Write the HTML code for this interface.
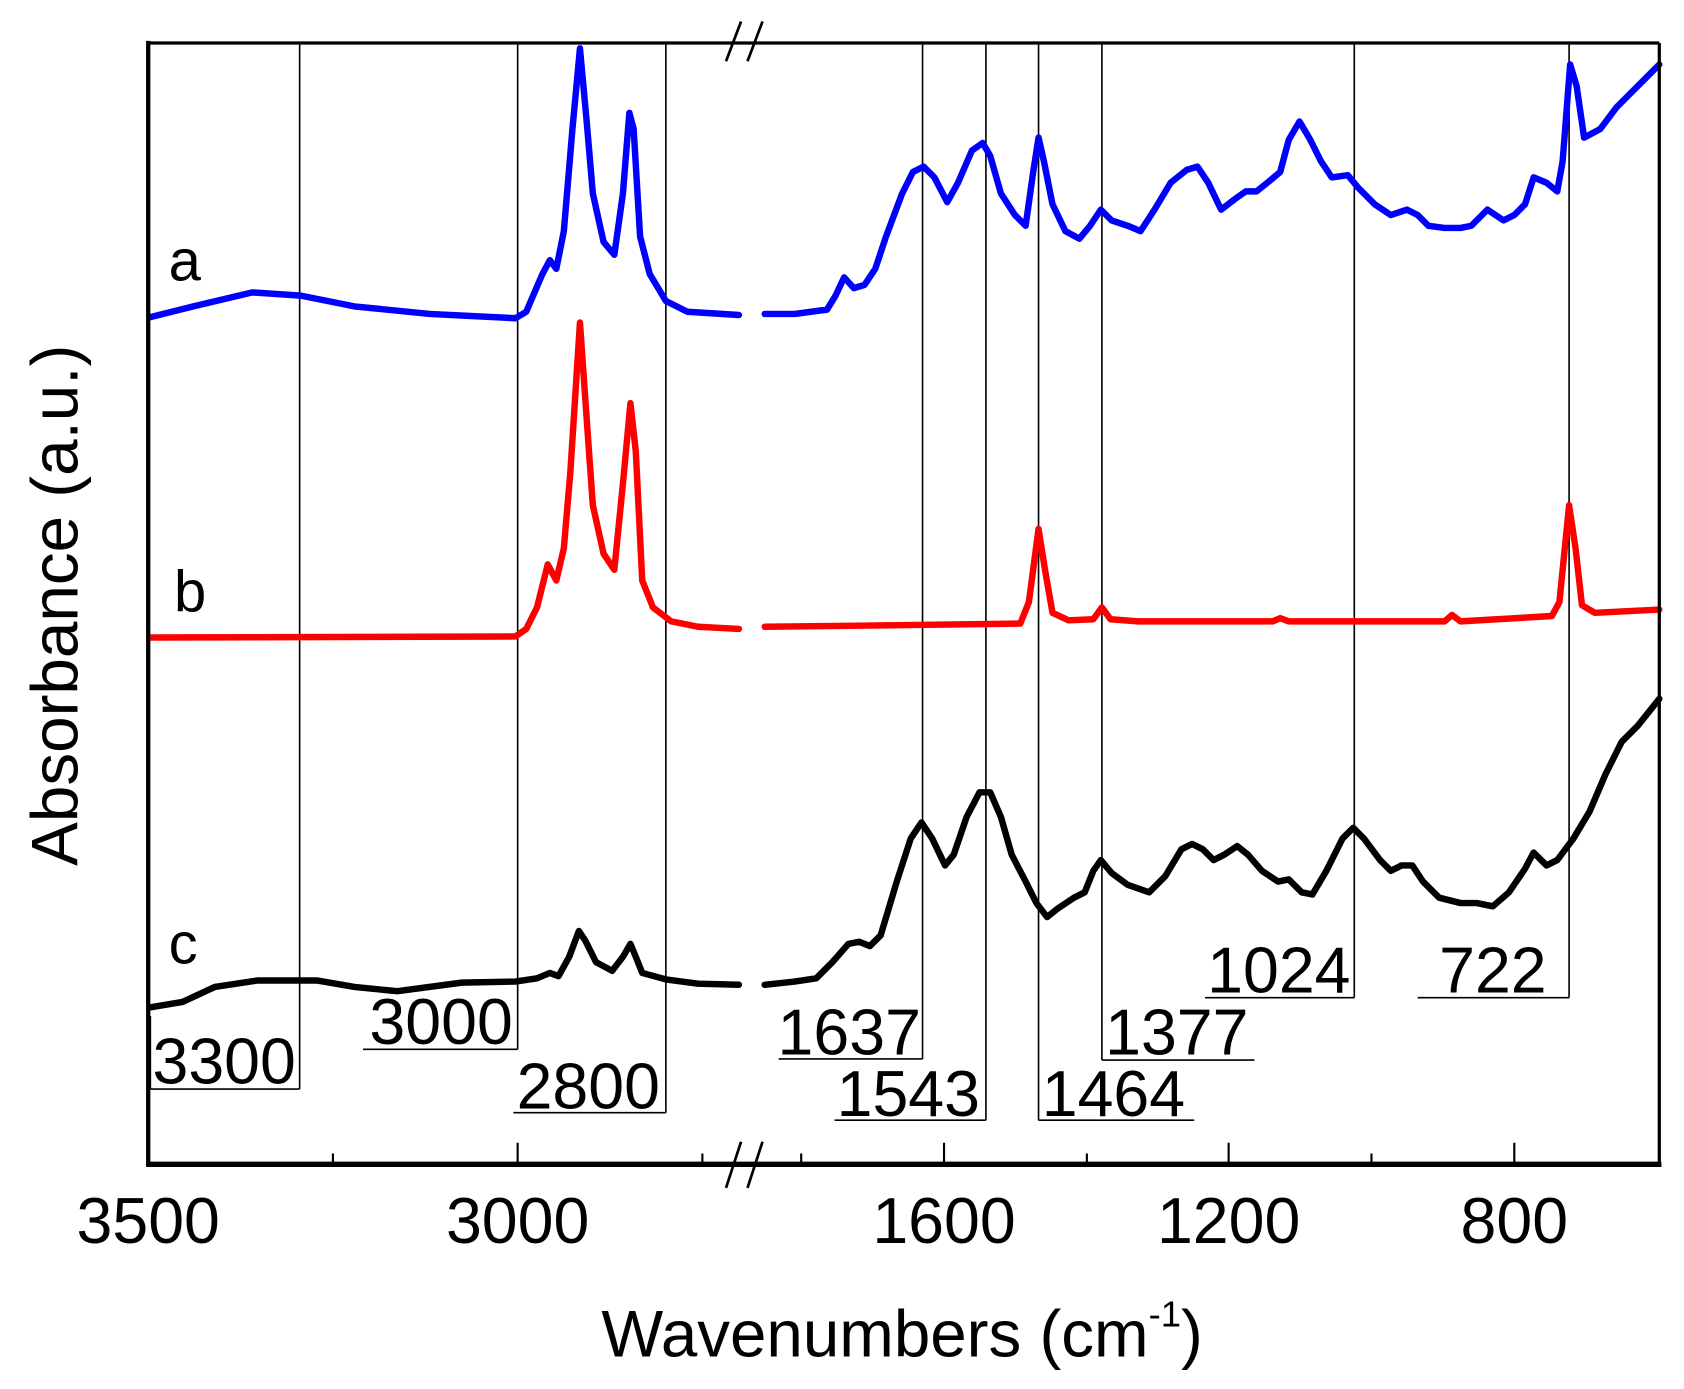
<!DOCTYPE html>
<html><head><style>html,body{margin:0;padding:0;background:#fff}svg{display:block}</style></head>
<body>
<svg width="1684" height="1389" viewBox="0 0 1568 1292" preserveAspectRatio="none" xmlns="http://www.w3.org/2000/svg" font-family="Liberation Sans, Arial, sans-serif">
<rect width="1568" height="1292" fill="#fff"/>
<g stroke="#000" stroke-width="1.5" fill="none">
<path d="M279 40V1013M482 40V976M620 40V1035M859 40V985M918 40V1042M967 40V1042M1026 40V986M1261 40V928M1461 40V928"/>
<path d="M140 1013H279M140 945V1013M338 976H482M478 1035H620M725 985H859M777 1042H918M967 1042H1112M1026 986H1168M1122 928H1261M1320 928H1461"/>
</g>
<g font-size="60" fill="#000">
<text x="142" y="1008">3300</text><text x="344" y="971">3000</text><text x="481" y="1031">2800</text>
<text x="724" y="981">1637</text><text x="779" y="1038">1543</text><text x="970" y="1038">1464</text>
<text x="1029" y="981">1377</text><text x="1124" y="923">1024</text><text x="1340" y="923">722</text>
</g>
<g fill="none" stroke-width="6" stroke-linejoin="round" stroke-linecap="round">
<polyline stroke="#0000ff" points="140,295 180,285 235,272 280,275 330,285 400,292 480,296 490,290 505,255 512,242 518,250 525,215 533,120 540,45 546,110 552,180 562,225 572,237 580,180 586,105 590,120 596,220 605,255 620,280 640,290 688,293"/>
<polyline stroke="#0000ff" points="712,292 740,292 770,288 778,275 786,258 795,268 805,265 815,250 825,220 840,180 850,160 860,155 870,165 882,188 892,170 905,140 915,133 922,145 932,180 945,200 955,210 962,160 967,128 972,150 980,190 992,215 1005,222 1015,210 1025,195 1035,205 1050,210 1062,215 1075,195 1090,170 1105,158 1115,155 1125,170 1137,195 1150,185 1160,178 1170,178 1180,170 1192,160 1200,130 1210,113 1220,130 1230,150 1240,165 1255,163 1265,175 1280,190 1295,200 1310,195 1320,200 1330,210 1345,212 1360,212 1370,210 1385,195 1400,205 1410,200 1420,190 1428,165 1440,170 1450,178 1455,150 1462,60 1468,80 1475,128 1490,120 1505,100 1520,85 1545,60"/>
<polyline stroke="#ff0000" points="140,593 480,592 490,585 500,565 510,525 518,540 525,510 531,440 540,300 547,400 552,470 562,515 572,530 580,450 587,375 592,420 598,540 608,565 625,578 650,583 688,585"/>
<polyline stroke="#ff0000" points="712,583 800,582 950,580 958,560 967,492 973,530 980,570 995,577 1018,576 1026,565 1034,576 1060,578 1185,578 1192,575 1200,578 1345,578 1352,572 1360,578 1445,573 1452,560 1461,470 1467,510 1473,563 1485,570 1545,567"/>
<polyline stroke="#000" points="140,937 170,932 200,918 240,912 295,912 330,918 370,922 430,914 480,913 500,910 512,905 520,908 530,890 539,866 545,875 555,895 570,903 580,890 587,878 592,890 598,905 620,911 650,915 688,916"/>
<polyline stroke="#000" points="712,916 740,913 760,910 775,895 790,878 800,876 810,880 820,870 835,820 848,780 858,765 868,780 880,805 888,795 900,760 912,737 922,737 932,760 942,795 955,820 965,840 975,853 985,845 1000,835 1010,830 1018,810 1025,800 1035,812 1050,823 1070,830 1085,815 1100,790 1110,785 1120,790 1130,800 1140,795 1152,787 1162,795 1175,810 1190,820 1200,818 1212,830 1222,832 1235,810 1250,780 1260,770 1270,780 1285,800 1295,810 1305,805 1315,805 1325,820 1340,835 1360,840 1375,840 1390,843 1405,830 1420,808 1428,793 1440,805 1450,800 1465,780 1480,755 1495,720 1510,690 1525,675 1545,650"/>
</g>
<g stroke="#000" fill="none">
<path d="M138 40H1545M1545 40V1083" stroke-width="3"/>
<path d="M138 38V1085" stroke-width="4"/>
<path d="M136 1083H1547" stroke-width="5"/>
<path d="M482 1083V1063M879 1083V1063M1144 1083V1063M1410 1083V1063M310 1083V1073M654 1083V1073M746 1083V1073M1012 1083V1073M1277 1083V1073" stroke-width="2"/>
<path d="M676 57L690 20M696 57L710 20M676 1105L690 1062M696 1105L710 1062" stroke-width="2.5"/>
</g>
<g font-size="60" text-anchor="middle" fill="#000">
<text x="138" y="1156">3500</text><text x="482" y="1156">3000</text><text x="879" y="1156">1600</text><text x="1144" y="1156">1200</text><text x="1410" y="1156">800</text>
</g>
<text x="840" y="1262" font-size="61" text-anchor="middle">Wavenumbers (cm<tspan dy="-28" font-size="34">-1</tspan><tspan dy="28">)</tspan></text>
<text transform="translate(72,563) rotate(-90)" font-size="61" text-anchor="middle">Absorbance (a.u.)</text>
<g font-size="54"><text x="157" y="261">a</text><text x="162" y="569">b</text><text x="157" y="896">c</text></g>
</svg>
</body></html>
